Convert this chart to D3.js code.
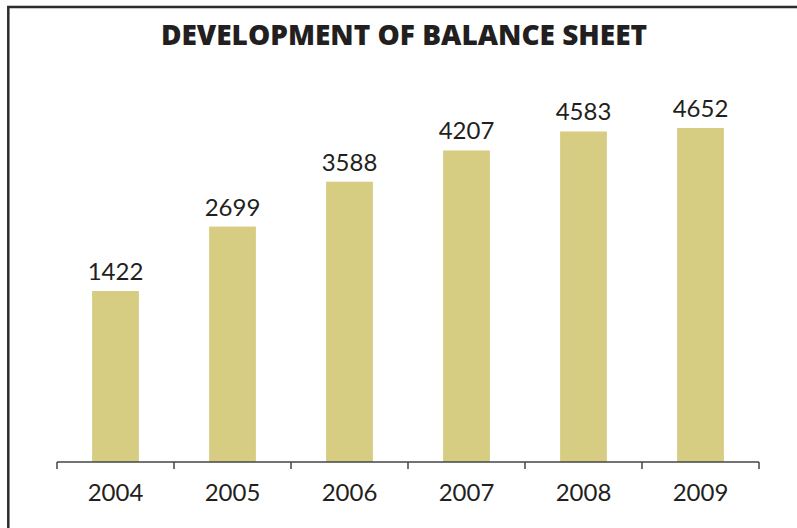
<!DOCTYPE html>
<html>
<head>
<meta charset="utf-8">
<script src="https://cdn.jsdelivr.net/npm/d3@7"></script>
<style>
  body { margin: 0; background: #fff; }
  .value_text { font-family: Lato, "Open Sans", sans-serif; font-size: 24px; fill: #231f20; }
  .axis text { font-family: Lato, "Open Sans", sans-serif; font-size: 24px; fill: #231f20; }
  .title_text { font-family: "Open Sans", sans-serif; font-weight: 800; font-size: 28px; fill: #231f20; }
</style>
</head>
<body>
<div id="viz"></div>
<script>
var years = ['2004', '2005', '2006', '2007', '2008', '2009'];
var balance = [1422, 2699, 3588, 4207, 4583, 4652];
var title = 'DEVELOPMENT OF BALANCE SHEET';

var width = 797, height = 528;
var margin = {top: 128, right: 38, bottom: 66, left: 57};

var svg = d3.select("#viz")
    .append("svg")
    .attr("width", width)
    .attr("height", height);

// frame (only top and left edges show in the picture)
svg.append('path')
    .attr('d', 'M8.3,' + height + 'V7H' + width)
    .attr('fill', 'none')
    .attr('stroke', '#2b2b2b')
    .attr('stroke-width', 2.5);

svg.append('text')
    .attr('class', 'title_text')
    .attr('x', 404)
    .attr('y', 45)
    .attr('text-anchor', 'middle')
    .text(title);

var x = d3.scaleBand()
    .domain(years)
    .range([margin.left, width - margin.right])
    .paddingInner(0.6)
    .paddingOuter(0.3);

// the value axis does not start at zero in the original
var y = d3.scaleLinear()
    .domain([-1966, 4652])
    .range([height - margin.bottom, margin.top]);

var g = svg.append('g');

g.selectAll('rect')
    .data(balance).enter()
    .append('rect')
    .attr('x', function(d, i) { return x(years[i]); })
    .attr('width', x.bandwidth())
    .attr('y', function(d) { return y(d); })
    .attr('height', function(d) { return y.range()[0] - y(d); })
    .attr('fill', '#d6cd82');

g.selectAll('.value_text')
    .data(balance).enter()
    .append('text')
    .attr('class', 'value_text')
    .attr('x', function(d, i) { return x(years[i]) + x.bandwidth() / 2; })
    .attr('y', function(d) { return y(d) - 11; })
    .attr('text-anchor', 'middle')
    .text(function(d) { return d; });

// category axis with ticks between the bands
var axisY = height - margin.bottom;
var axis = svg.append('g').attr('class', 'axis');
axis.append('line')
    .attr('x1', margin.left).attr('x2', width - margin.right)
    .attr('y1', axisY).attr('y2', axisY)
    .attr('stroke', '#444').attr('stroke-width', 1.5);

var step = x.step();
var edges = d3.range(years.length + 1).map(function(i) { return margin.left + i * step; });
axis.selectAll('.tick')
    .data(edges).enter()
    .append('line')
    .attr('x1', function(d) { return d; }).attr('x2', function(d) { return d; })
    .attr('y1', axisY).attr('y2', axisY + 7)
    .attr('stroke', '#444').attr('stroke-width', 1.5);

axis.selectAll('text')
    .data(years).enter()
    .append('text')
    .attr('x', function(d) { return x(d) + x.bandwidth() / 2; })
    .attr('y', 501)
    .attr('text-anchor', 'middle')
    .text(function(d) { return d; });
</script>
</body>
</html>
